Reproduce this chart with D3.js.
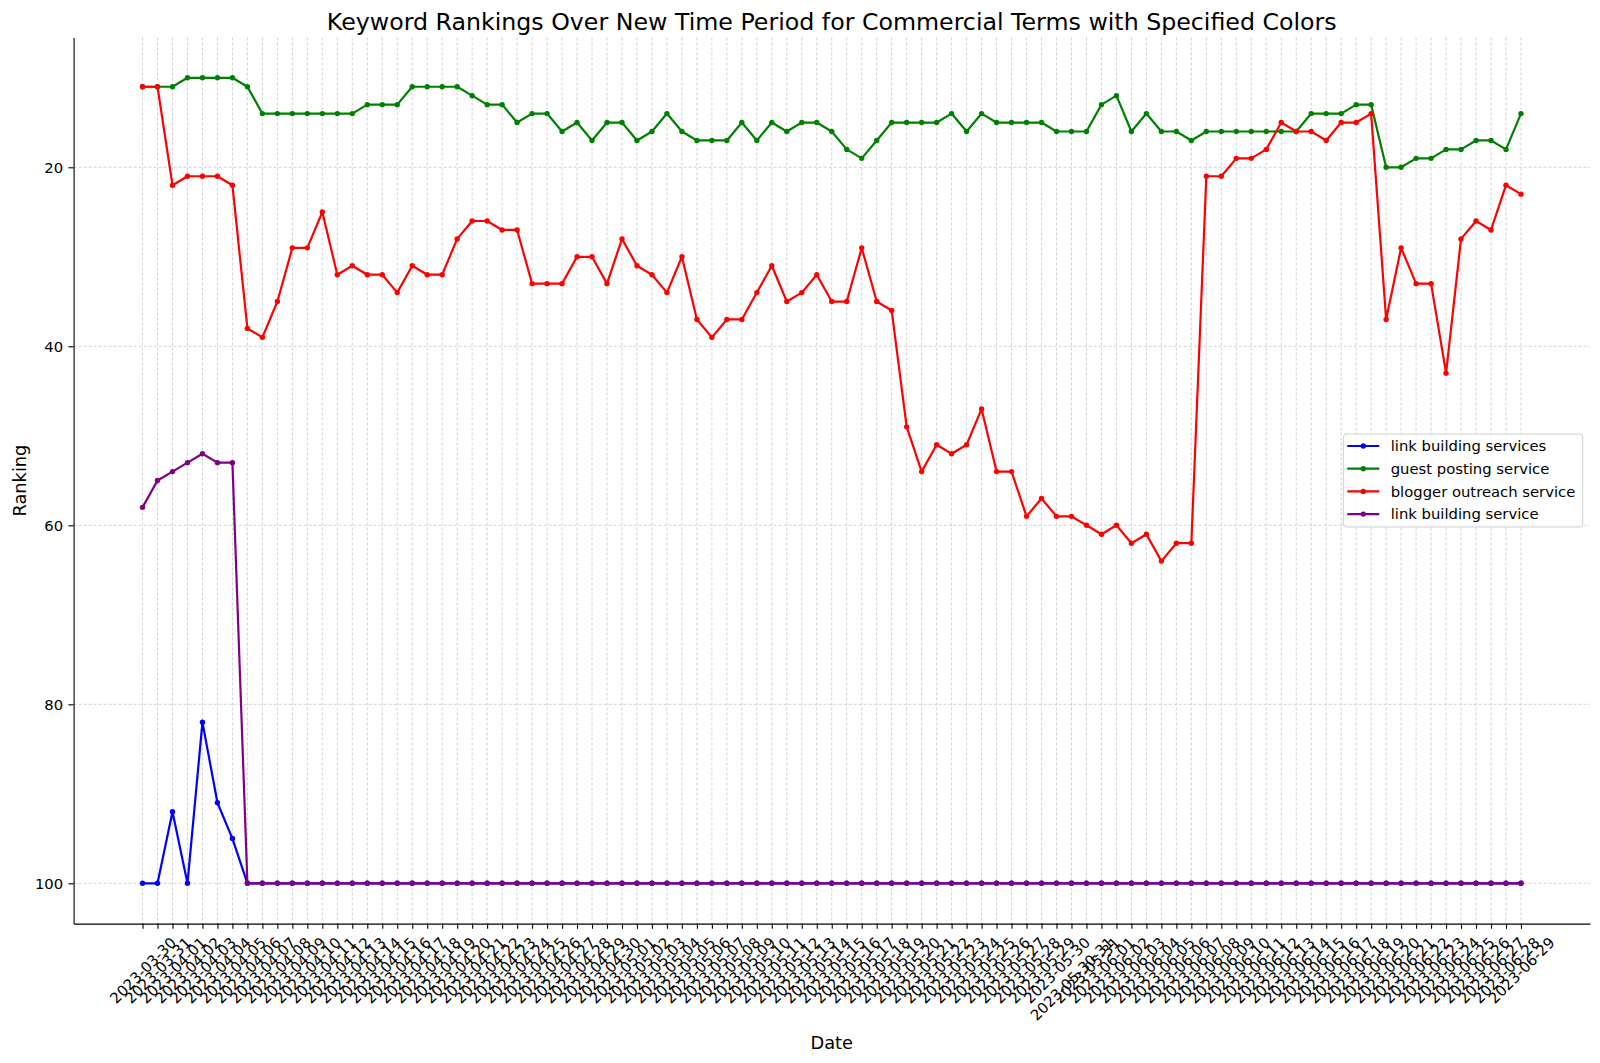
<!DOCTYPE html>
<html>
<head>
<meta charset="utf-8">
<script src="https://cdnjs.cloudflare.com/ajax/libs/d3/7.8.5/d3.min.js"></script>
<style>
  body { margin: 0; background: #fff; }
  svg { font-family: "DejaVu Sans", sans-serif; }
</style>
</head>
<body>
<div id="chart"></div>
<script>
// ~~ data ~~
var dates = [
  "2023-03-30","2023-03-31",
  "2023-04-01","2023-04-02","2023-04-03","2023-04-04","2023-04-05","2023-04-06","2023-04-07","2023-04-08","2023-04-09","2023-04-10",
  "2023-04-11","2023-04-12","2023-04-13","2023-04-14","2023-04-15","2023-04-16","2023-04-17","2023-04-18","2023-04-19","2023-04-20",
  "2023-04-21","2023-04-22","2023-04-23","2023-04-24","2023-04-25","2023-04-26","2023-04-27","2023-04-28","2023-04-29","2023-04-30",
  "2023-05-01","2023-05-02","2023-05-03","2023-05-04","2023-05-05","2023-05-06","2023-05-07","2023-05-08","2023-05-09","2023-05-10",
  "2023-05-11","2023-05-12","2023-05-13","2023-05-14","2023-05-15","2023-05-16","2023-05-17","2023-05-18","2023-05-19","2023-05-20",
  "2023-05-21","2023-05-22","2023-05-23","2023-05-24","2023-05-25","2023-05-26","2023-05-27","2023-05-28","2023-05-29","2023-05-30",
  "2023-05-30-31","2023-05-31",
  "2023-06-01","2023-06-02","2023-06-03","2023-06-04","2023-06-05","2023-06-06","2023-06-07","2023-06-08","2023-06-09","2023-06-10",
  "2023-06-11","2023-06-12","2023-06-13","2023-06-14","2023-06-15","2023-06-16","2023-06-17","2023-06-18","2023-06-19","2023-06-20",
  "2023-06-21","2023-06-22","2023-06-23","2023-06-24","2023-06-25","2023-06-26","2023-06-27","2023-06-28","2023-06-29"
];

var linkBuildingServices = [
  100,100,92,100,82,91,95,100,100,100,
  100,100,100,100,100,100,100,100,100,100,
  100,100,100,100,100,100,100,100,100,100,
  100,100,100,100,100,100,100,100,100,100,
  100,100,100,100,100,100,100,100,100,100,
  100,100,100,100,100,100,100,100,100,100,
  100,100,100,100,100,100,100,100,100,100,
  100,100,100,100,100,100,100,100,100,100,
  100,100,100,100,100,100,100,100,100,100,
  100,100,100
];

var guestPostingService = [
  11,11,11,10,10,10,10,11,14,14,
  14,14,14,14,14,13,13,13,11,11,
  11,11,12,13,13,15,14,14,16,15,
  17,15,15,17,16,14,16,17,17,17,
  15,17,15,16,15,15,16,18,19,17,
  15,15,15,15,14,16,14,15,15,15,
  15,16,16,16,13,12,16,14,16,16,
  17,16,16,16,16,16,16,16,14,14,
  14,13,13,20,20,19,19,18,18,17,
  17,18,14
];

var bloggerOutreachService = [
  11,11,22,21,21,21,22,38,39,35,
  29,29,25,32,31,32,32,34,31,32,
  32,28,26,26,27,27,33,33,33,30,
  30,33,28,31,32,34,30,37,39,37,
  37,34,31,35,34,32,35,35,29,35,
  36,49,54,51,52,51,47,54,54,59,
  57,59,59,60,61,60,62,61,64,62,
  62,21,21,19,19,18,15,16,16,17,
  15,15,14,37,29,33,33,43,28,26,
  27,22,23
];

var linkBuildingService = [
  58,55,54,53,52,53,53,100,100,100,
  100,100,100,100,100,100,100,100,100,100,
  100,100,100,100,100,100,100,100,100,100,
  100,100,100,100,100,100,100,100,100,100,
  100,100,100,100,100,100,100,100,100,100,
  100,100,100,100,100,100,100,100,100,100,
  100,100,100,100,100,100,100,100,100,100,
  100,100,100,100,100,100,100,100,100,100,
  100,100,100,100,100,100,100,100,100,100,
  100,100,100
];

var seriesNames = ["link building services", "guest posting service", "blogger outreach service", "link building service"];
var seriesColors = ["#0000ff", "#008000", "#ff0000", "#800080"];
var yTicks = [20, 40, 60, 80, 100];

function rankingChart(){

  var div = '#chart';
  var width = 1600, height = 1063;
  var plot = {left: 73.6, right: 1589.9, top: 37.5, bottom: 923.6};
  var tickFont = 14.8, labelFont = 17.8;

  var series = [linkBuildingServices, guestPostingService, bloggerOutreachService, linkBuildingService];

  var svg = d3.select(div).append("svg")
      .attr("width", width)
      .attr("height", height);

  // categorical x like matplotlib (5% margin each side)
  var x = d3.scalePoint()
      .domain(dates)
      .range([plot.left, plot.right])
      .padding(0.05 * (dates.length - 1));

  // ranking axis is inverted, 1 on top
  var y = d3.scaleLinear()
      .domain([5.5, 104.5])
      .range([plot.top, plot.bottom]);

  //grid
  var grid = svg.append("g").attr("class", "grid");
  grid.selectAll(".vgrid").data(dates).enter().append("line")
      .attr("x1", function(d){ return x(d); })
      .attr("x2", function(d){ return x(d); })
      .attr("y1", plot.top).attr("y2", plot.bottom);
  grid.selectAll(".hgrid").data(yTicks).enter().append("line")
      .attr("x1", plot.left).attr("x2", plot.right)
      .attr("y1", function(d){ return y(d); })
      .attr("y2", function(d){ return y(d); });
  grid.selectAll("line")
      .style("stroke", "#c8c8c8")
      .style("stroke-width", 0.8)
      .style("stroke-dasharray", "3,2");

  //axes
  var yAxis = svg.append("g")
      .attr("transform", "translate(" + plot.left + ",0)")
      .call(d3.axisLeft(y).tickValues(yTicks).tickSize(5.2).tickSizeOuter(0).tickPadding(5.2));

  var xAxis = svg.append("g")
      .attr("transform", "translate(0," + plot.bottom + ")")
      .call(d3.axisBottom(x).tickSize(5.2).tickSizeOuter(0).tickPadding(5.2));

  [xAxis, yAxis].forEach(function(a){
    a.attr("font-family", null).attr("font-size", null);
    a.selectAll("text").style("font-size", tickFont + "px").style("fill", "#000");
    a.selectAll("line, path").style("stroke", "#000").style("stroke-width", 1.1);
  });

  // rotate date labels 45deg, bbox centred on the tick (ha=center)
  xAxis.selectAll(".tick text").each(function(){
    var t = d3.select(this);
    var w = this.getComputedTextLength();
    var s = (w + 17) / Math.SQRT2;
    var cy = 10.4 + s / 2;
    t.attr("x", 0).attr("y", cy).attr("dy", "0.35em")
     .attr("text-anchor", "middle")
     .attr("transform", "rotate(-45,0," + cy + ")");
  });

  //lines + markers
  var line = d3.line()
      .x(function(d, i){ return x(dates[i]); })
      .y(function(d){ return y(d); });

  series.forEach(function(s, k){
    var g = svg.append("g").attr("class", "series");
    g.append("path")
        .datum(s)
        .attr("d", line)
        .style("fill", "none")
        .style("stroke", seriesColors[k])
        .style("stroke-width", 2.2)
        .style("stroke-linejoin", "round");
    g.selectAll("circle").data(s).enter().append("circle")
        .attr("cx", function(d, i){ return x(dates[i]); })
        .attr("cy", function(d){ return y(d); })
        .attr("r", 2.7)
        .style("fill", seriesColors[k]);
  });

  //texts
  svg.append("text")
      .attr("x", (plot.left + plot.right) / 2)
      .attr("y", 30)
      .attr("text-anchor", "middle")
      .style("font-size", "23.7px")
      .text("Keyword Rankings Over New Time Period for Commercial Terms with Specified Colors");

  svg.append("text")
      .attr("x", (plot.left + plot.right) / 2)
      .attr("y", 1048.5)
      .attr("text-anchor", "middle")
      .style("font-size", labelFont + "px")
      .text("Date");

  svg.append("text")
      .attr("transform", "translate(26," + ((plot.top + plot.bottom) / 2) + ") rotate(-90)")
      .attr("text-anchor", "middle")
      .style("font-size", labelFont + "px")
      .text("Ranking");

  //legend
  var legend = svg.append("g").attr("class", "legend");
  legend.append("rect")
      .attr("x", 1343.3).attr("y", 434)
      .attr("width", 239.4).attr("height", 93)
      .attr("rx", 3)
      .style("fill", "#fff").style("fill-opacity", 0.8)
      .style("stroke", "#d0d0d0").style("stroke-width", 1);

  var item = legend.selectAll(".item").data(seriesNames).enter().append("g")
      .attr("transform", function(d, i){ return "translate(0," + (446 + i * 22.7) + ")"; });
  item.append("line")
      .attr("x1", 1347.3).attr("x2", 1379.3)
      .style("stroke", function(d, i){ return seriesColors[i]; })
      .style("stroke-width", 2.2);
  item.append("circle")
      .attr("cx", 1363.3).attr("r", 2.7)
      .style("fill", function(d, i){ return seriesColors[i]; });
  item.append("text")
      .attr("x", 1390.7).attr("dy", "0.35em")
      .style("font-size", tickFont + "px")
      .text(function(d){ return d; });
}

rankingChart();
</script>
</body>
</html>
